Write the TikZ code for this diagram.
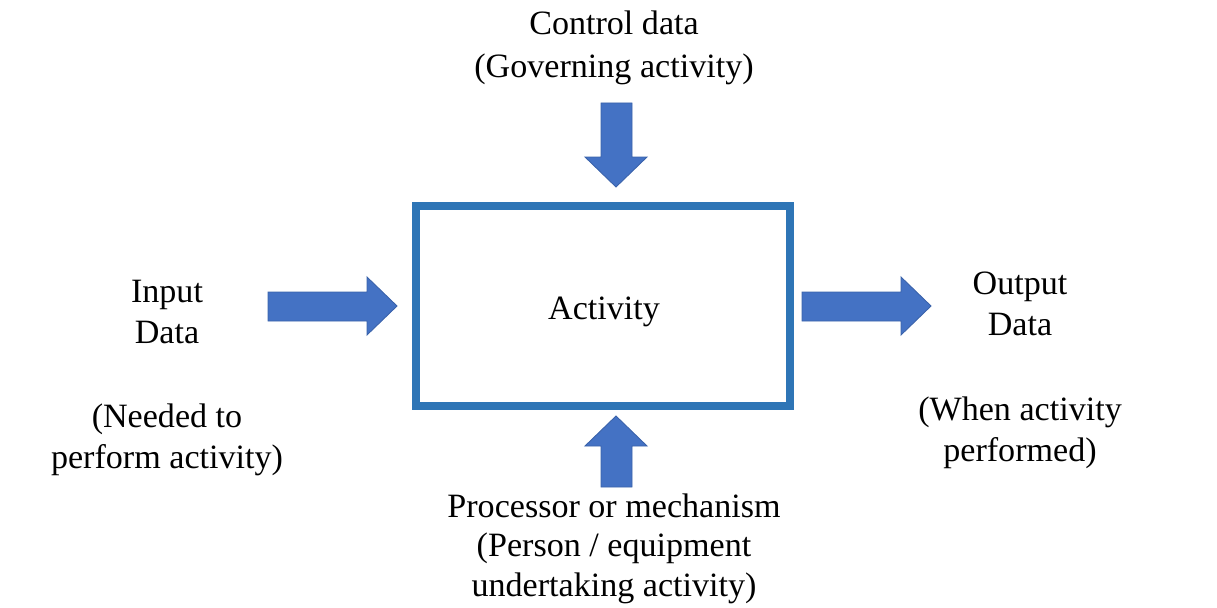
\documentclass[tikz,border=0pt]{standalone}
\usepackage{fontspec}
\setmainfont{Liberation Serif}
\begin{document}
\begin{tikzpicture}[x=0.02cm,y=-0.02cm,
  lbl/.style={anchor=base,inner sep=0pt,font=\fontsize{19.4}{24}\selectfont},
  blockarrow/.style={fill=arrowblue,draw=arrowedge,line width=0.5pt,line join=miter},
  activitybox/.style={draw=boxblue,line width=8*0.5692pt,fill=white}]
\definecolor{arrowblue}{HTML}{4472C4}
\definecolor{arrowedge}{HTML}{3A62AA}
\definecolor{boxblue}{HTML}{2E75B6}
\useasboundingbox (0,0) rectangle (1217,608);

% central activity box
\draw[activitybox] (416,206) rectangle (790,406);
\node[lbl] (act) at (604,319) {Activity};

% control (top)
\node[lbl] (ctl1) at (614,35) {Control data};
\node[lbl] (ctl2) at (614,78) {(Governing activity)};
\draw[blockarrow] (601,103) -- (632,103) -- (632,157) -- (647,157) -- (616,187)
  -- (585,157) -- (601,157) -- cycle;

% input (left)
\node[lbl] (in1) at (167,302) {Input};
\node[lbl] (in2) at (167,343) {Data};
\node[lbl] (in3) at (167,427) {(Needed to};
\node[lbl] (in4) at (167,468) {perform activity)};
\draw[blockarrow] (268,292) -- (367,292) -- (367,277) -- (397,306) -- (367,335)
  -- (367,321) -- (268,321) -- cycle;

% output (right)
\node[lbl] (out1) at (1020,294) {Output};
\node[lbl] (out2) at (1020,335) {Data};
\node[lbl] (out3) at (1020,420) {(When activity};
\node[lbl] (out4) at (1020,461) {performed)};
\draw[blockarrow] (802,292) -- (901,292) -- (901,277) -- (931,306) -- (901,335)
  -- (901,321) -- (802,321) -- cycle;

% mechanism (bottom)
\draw[blockarrow] (601,487) -- (632,487) -- (632,446) -- (647,446) -- (616,416)
  -- (585,446) -- (601,446) -- cycle;
\node[lbl] (mech1) at (614,517) {Processor or mechanism};
\node[lbl] (mech2) at (614,556) {(Person / equipment};
\node[lbl] (mech3) at (614,596) {undertaking activity)};
\end{tikzpicture}
\end{document}
